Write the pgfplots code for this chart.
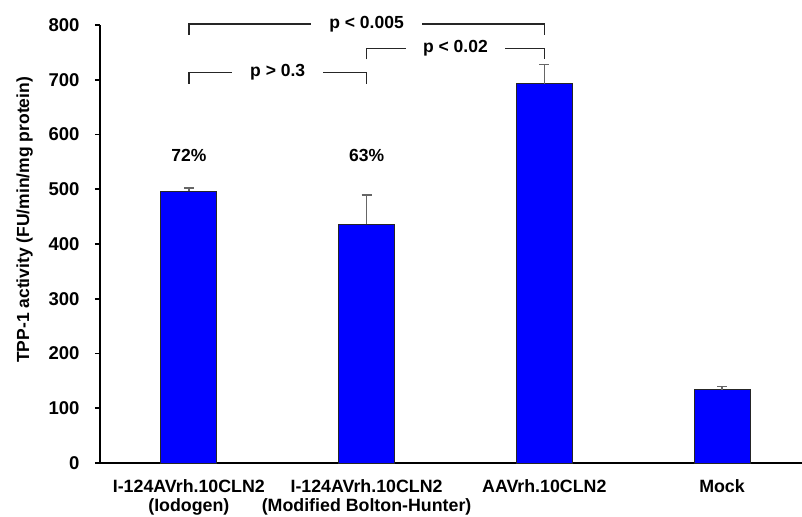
\documentclass[border=0pt]{standalone}
\usepackage{fontspec}
\setmainfont{Liberation Sans}
\usepackage{pgfplots}
\pgfplotsset{compat=1.18}
\newcommand{\lbl}{\fontsize{17.5}{19}\selectfont\bfseries}
\newcommand{\cat}{\fontsize{17.8}{19}\selectfont\bfseries}
\newcommand{\tck}{\fontsize{18.5}{20}\selectfont\bfseries}
\begin{document}
\begin{tikzpicture}
\begin{axis}[
 scale only axis, width=702pt, height=438pt,
 xmin=-0.5, xmax=3.45, ymin=0, ymax=800,
 axis x line=bottom, axis y line=left,
 axis line style={-, line width=1.8pt, black},
 clip=false,
 ytick={0,100,...,800},
 xtick={0,1,2,3},
 xticklabels={{I-124AVrh.10CLN2\\(Iodogen)},{I-124AVrh.10CLN2\\(Modified Bolton-Hunter)},{AAVrh.10CLN2},{Mock}},
 x tick style={draw=none},
 y tick style={line width=1.8pt, black},
 tick align=outside, major tick length=5pt,
 xticklabel style={align=center, font=\cat, yshift=-8pt},
 yticklabel style={font=\tck, xshift=-12pt},
 /pgf/number format/assume math mode=true,
 ybar, bar width=56pt,
]
\addplot[fill=blue, draw=black!85, line width=0.8pt,
  error bars/.cd, y dir=plus, y explicit,
  error bar style={line width=1.6pt, black!60},
  error mark options={rotate=90, mark size=5pt, line width=1.6pt, black!60}]
  coordinates {(0,496) +- (0,6) (1,436) +- (0,53) (2,693) +- (0,35) (3,134) +- (0,6)};
\coordinate (O) at (axis cs:-0.5,0);
% brackets
\draw[line width=1.5pt, black!85] (axis cs:0,782) |- (axis cs:2,802) -- (axis cs:2,782);
\node[fill=white, inner xsep=18pt, inner ysep=1pt, font=\lbl] at (axis cs:1,802) {p < 0.005};
\draw[line width=1.5pt, black!85] (axis cs:1,737) |- (axis cs:2,757) -- (axis cs:2,737);
\node[fill=white, inner xsep=17pt, inner ysep=1pt, font=\lbl] at (axis cs:1.5,757) {p < 0.02};
\draw[line width=1.5pt, black!85] (axis cs:0,693) |- (axis cs:1,713) -- (axis cs:1,693);
\node[fill=white, inner xsep=18pt, inner ysep=1pt, font=\lbl] at (axis cs:0.5,713) {p > 0.3};
\node[font=\lbl] at (axis cs:0,562) {72\%};
\node[font=\lbl] at (axis cs:1,562) {63\%};
\node[rotate=90, anchor=south, inner sep=0pt, font=\lbl] at ([xshift=-67pt]rel axis cs:0,0.555) {TPP-1 activity (FU/min/mg protein)};
\end{axis}
\pgfresetboundingbox
\path ([shift={(-100pt,-53pt)}]O) rectangle ([shift={(702pt,463pt)}]O);
\end{tikzpicture}
\end{document}
